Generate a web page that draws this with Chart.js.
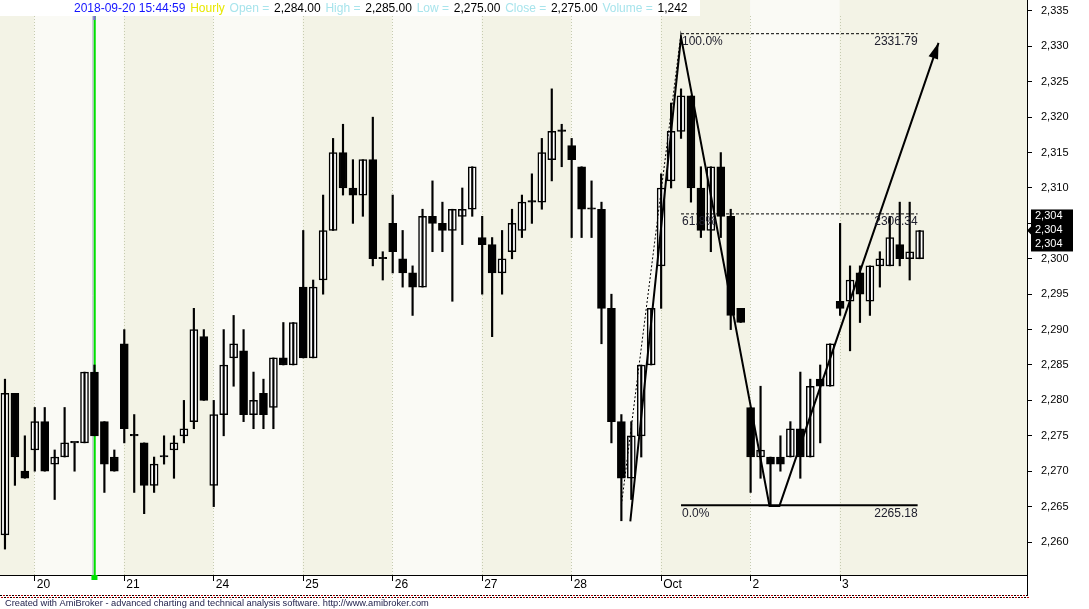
<!DOCTYPE html>
<html>
<head>
<meta charset="utf-8">
<script src="https://cdn.jsdelivr.net/npm/chart.js@4.4.0/dist/chart.umd.min.js"></script>
<style>
  html, body { margin: 0; padding: 0; background: #fff; }
</style>
</head>
<body>
<canvas id="myChart" width="1089" height="609"></canvas>
<script>
// hourly bars (index 0 = last 3 bars of Sep 19)
const opens  = [2261,2281,2270,2273,2277,2271,2272,2274,2274,2284,2277,2272,2288,2275,2274,2268,2272,2273,2275,2277,
                2289,2268,2278,2286,2287,2278,2281,2279,2286,2285,2296,2286,2297,2304,2315,2310,2309,2314,2300,2305,
                2300,2298,2296,2306,2305,2304,2306,2307,2303,2302,2298,2301,2304,2308,2308,2314,2318,2316,2313,2307,
                2307,2293,2277,2269,2275,2285,2299,2311,2318,2323,2310,2304,2313,2306,2293,2279,2272,2272,2272,2272,
                2276,2272,2283,2282,2294,2294,2298,2294,2299,2299,2302,2300,2300];
const highs  = [2283,2281,2275,2279,2279,2273,2279,2274,2284,2285,2277,2273,2290,2278,2274,2272,2275,2275,2280,2293,
                2290,2280,2290,2292,2290,2284,2283,2286,2291,2291,2304,2297,2309,2317,2319,2314,2314,2320,2301,2309,
                2304,2299,2307,2311,2308,2307,2310,2313,2306,2303,2304,2307,2309,2312,2317,2324,2319,2317,2313,2311,
                2308,2295,2278,2277,2285,2293,2312,2322,2324,2323,2313,2313,2315,2307,2293,2279,2282,2272,2275,2277,
                2284,2283,2285,2288,2305,2299,2299,2299,2301,2306,2308,2308,2304];
const lows   = [2259,2268,2269,2270,2270,2266,2272,2270,2274,2275,2267,2270,2274,2267,2264,2267,2271,2269,2274,2276,
                2280,2265,2275,2282,2277,2276,2276,2276,2285,2285,2286,2286,2295,2304,2309,2305,2306,2299,2297,2298,
                2296,2292,2296,2301,2301,2294,2302,2306,2295,2289,2295,2300,2303,2305,2307,2311,2313,2303,2303,2303,
                2288,2274,2263,2266,2272,2285,2293,2310,2317,2308,2303,2301,2303,2290,2291,2267,2269,2265,2270,2272,
                2269,2272,2274,2282,2292,2287,2291,2292,2296,2299,2299,2297,2300];
const closes = [2281,2272,2269,2277,2270,2272,2274,2274,2284,2275,2271,2270,2276,2275,2268,2271,2272,2274,2276,2290,
                2280,2278,2285,2288,2278,2280,2278,2286,2285,2291,2286,2296,2304,2315,2310,2309,2314,2300,2300,2301,
                2298,2296,2306,2305,2304,2307,2307,2313,2302,2298,2300,2305,2308,2308,2315,2318,2318,2314,2307,2307,
                2293,2277,2269,2275,2285,2293,2310,2318,2323,2310,2304,2313,2306,2292,2291,2272,2273,2271,2271,2276,
                2272,2282,2282,2288,2293,2297,2295,2299,2300,2303,2300,2301,2304];

// first bar of each day and its label
const dayTicks  = [3, 12, 21, 30, 39, 48, 57, 66, 75, 84];
const dayLabels = ['20', '21', '24', '25', '26', '27', '28', 'Oct', '2', '3'];
const yTicks = [2260, 2265, 2270, 2275, 2280, 2285, 2290, 2295, 2300, 2305, 2310, 2315, 2320, 2325, 2330, 2335];

// zigzag study (bar index, price)
const zigzagX = [62.9, 68.0, 76.9, 77.9, 93.9];
const zigzagY = [2262.9, 2331.3, 2265.1, 2265.1, 2330.5];

// fibonacci retracement
const fibTrendX = [62.0, 68.0];
const fibTrendY = [2265.18, 2331.79];
const fibPct    = ['100.0%', '61.8%', '0.0%'];
const fibValues = [2331.79, 2306.34, 2265.18];
const fibFrom = 68, fibTo = 91.8;

const selectedBar = 9;
const selectedVolume = 1242;
const lastPrice = 2304;

const withCommas = (v) => String(v).replace(/\B(?=(\d{3})+(?!\d))/g, ',');
const price2 = (v) => withCommas(v.toFixed(2).split('.')[0]) + '.' + v.toFixed(2).split('.')[1];

const FONT = 'Liberation Sans, Arial, sans-serif';

const bodyColors = closes.map((c, i) => c > opens[i] ? '#ffffff' : '#000000');

const amiDecor = {
  id: 'amiDecor',
  beforeDraw(chart) {
    const { ctx, chartArea: a, scales: { x } } = chart;
    ctx.save();
    ctx.fillStyle = '#ffffff';
    ctx.fillRect(0, 0, chart.width, chart.height);
    ctx.fillStyle = '#f3f3e6';
    ctx.fillRect(a.left, a.top, a.right - a.left, a.bottom - a.top);
    // lighter stripe every other day
    for (let d = 0; d < dayTicks.length; d += 2) {
      const x0 = x.getPixelForValue(dayTicks[d]) - 0.5;
      const x1 = d + 1 < dayTicks.length ? x.getPixelForValue(dayTicks[d + 1]) - 0.5 : a.right;
      ctx.fillStyle = '#fafaf5';
      ctx.fillRect(x0, a.top, x1 - x0, a.bottom - a.top);
    }
    ctx.fillStyle = '#ffffff';
    ctx.fillRect(a.left, a.top, 700, 16);
    ctx.strokeStyle = '#c6cbb0';
    ctx.lineWidth = 1;
    ctx.setLineDash([1, 2]);
    dayTicks.forEach(t => {
      const px = Math.round(x.getPixelForValue(t) - 0.5) + 0.5;
      ctx.beginPath();
      ctx.moveTo(px, a.top + 16);
      ctx.lineTo(px, a.bottom);
      ctx.stroke();
    });
    ctx.restore();
  },
  beforeDatasetsDraw(chart) {
    const { ctx, chartArea: a, scales: { x } } = chart;
    const px = x.getPixelForValue(selectedBar);
    ctx.save();
    ctx.strokeStyle = '#a4a8c0';
    ctx.lineWidth = 1;
    ctx.beginPath();
    ctx.moveTo(px - 1.5, a.top + 16);
    ctx.lineTo(px - 1.5, a.bottom);
    ctx.stroke();
    ctx.strokeStyle = '#00e000';
    ctx.lineWidth = 2;
    ctx.beginPath();
    ctx.moveTo(px + 0.3, a.top + 16);
    ctx.lineTo(px + 0.3, a.bottom);
    ctx.stroke();
    ctx.restore();
  },
  afterDatasetsDraw(chart) {
    const { ctx, scales: { x, y } } = chart;
    ctx.save();
    // arrow head on the last zigzag leg
    const n = zigzagX.length;
    const tx = x.getPixelForValue(zigzagX[n - 1]), ty = y.getPixelForValue(zigzagY[n - 1]);
    const fx = x.getPixelForValue(zigzagX[n - 2]), fy = y.getPixelForValue(zigzagY[n - 2]);
    const ang = Math.atan2(ty - fy, tx - fx);
    const len = 16, half = 5;
    ctx.fillStyle = '#000';
    ctx.beginPath();
    ctx.moveTo(tx, ty);
    ctx.lineTo(tx - len * Math.cos(ang) + half * Math.sin(ang), ty - len * Math.sin(ang) - half * Math.cos(ang));
    ctx.lineTo(tx - len * Math.cos(ang) - half * Math.sin(ang), ty - len * Math.sin(ang) + half * Math.cos(ang));
    ctx.closePath();
    ctx.fill();
    // fib labels
    ctx.font = '12px ' + FONT;
    ctx.fillStyle = '#20202e';
    ctx.textBaseline = 'top';
    const lx = x.getPixelForValue(fibFrom), rx = x.getPixelForValue(fibTo);
    fibValues.forEach((v, k) => {
      const py = y.getPixelForValue(v);
      ctx.textAlign = 'left';
      ctx.fillText(fibPct[k], lx + 1, py + 2);
      ctx.textAlign = 'right';
      ctx.fillText(v.toFixed(2), rx, py + 2);
    });
    ctx.restore();
  },
  afterDraw(chart) {
    const { ctx, chartArea: a, scales: { x, y } } = chart;
    ctx.save();
    // last price boxes
    const py = y.getPixelForValue(lastPrice);
    ctx.fillStyle = '#000';
    ctx.fillRect(a.right + 4, py - 21, 42, 42);
    ctx.beginPath();
    ctx.moveTo(a.right, py);
    ctx.lineTo(a.right + 5, py - 5);
    ctx.lineTo(a.right + 5, py + 5);
    ctx.closePath();
    ctx.fill();
    ctx.fillStyle = '#fff';
    ctx.font = '11px ' + FONT;
    ctx.textBaseline = 'middle';
    ctx.textAlign = 'left';
    [-14, 0, 14].forEach(d => ctx.fillText(withCommas(lastPrice), a.right + 8, py + d));

    // title line
    const head = [
      ['2018-09-20 15:44:59', '#1414ff'],
      ['Hourly', '#e8e800'],
      ['Open =', '#a8e4ec'], [price2(opens[selectedBar]), '#000'],
      ['High =', '#a8e4ec'], [price2(highs[selectedBar]), '#000'],
      ['Low =', '#a8e4ec'], [price2(lows[selectedBar]), '#000'],
      ['Close =', '#a8e4ec'], [price2(closes[selectedBar]), '#000'],
      ['Volume =', '#a8e4ec'], [withCommas(selectedVolume), '#000']
    ];
    ctx.font = '12px ' + FONT;
    ctx.textBaseline = 'middle';
    let hx = 74;
    const sp = ctx.measureText(' ').width + 1.4;
    head.forEach(([t, c]) => {
      ctx.fillStyle = c;
      ctx.fillText(t, hx, 9);
      hx += ctx.measureText(t).width + sp;
    });

    // selected bar marker on the date axis
    const sx = x.getPixelForValue(selectedBar);
    ctx.fillStyle = '#00e000';
    ctx.fillRect(sx - 3, a.bottom, 6, 5);
    ctx.fillStyle = '#8060e0';
    ctx.fillRect(sx - 1, 16, 2, 4);

    // right border continues down to the footer rule
    ctx.strokeStyle = '#000';
    ctx.lineWidth = 1;
    ctx.beginPath();
    ctx.moveTo(a.right + 0.5, a.bottom);
    ctx.lineTo(a.right + 0.5, 596);
    ctx.stroke();

    // red/black dotted rule
    for (let i = 0; i < a.right; i += 3) {
      ctx.fillStyle = (i / 3) % 2 ? '#b00000' : '#000000';
      ctx.fillRect(i, 595, 2, 1);
      ctx.fillStyle = (i / 3) % 2 ? '#000000' : '#c00000';
      ctx.fillRect(i + 1, 597, 2, 1);
    }

    // footer
    const foot = 'Created with AmiBroker - advanced charting and technical analysis software. http://www.amibroker.com';
    ctx.font = '10px ' + FONT;
    const fs = 10 * 424 / ctx.measureText(foot).width;
    ctx.font = fs.toFixed(2) + 'px ' + FONT;
    ctx.fillStyle = '#1c1c48';
    ctx.textAlign = 'left';
    ctx.textBaseline = 'middle';
    ctx.fillText(foot, 5, 603);
    ctx.restore();
  }
};

const ctx = document.getElementById('myChart').getContext('2d');

const lineDs = (pts, width, dash) => ({
  type: 'line',
  data: pts,
  borderColor: '#000',
  borderWidth: width,
  borderDash: dash,
  pointRadius: 0,
  tension: 0,
  fill: false,
  order: 0
});

new Chart(ctx, {
  type: 'bar',
  data: {
    datasets: [
      lineDs(zigzagX.map((v, i) => ({ x: v, y: zigzagY[i] })), 2, []),
      lineDs(fibTrendX.map((v, i) => ({ x: v, y: fibTrendY[i] })), 1, [2, 2]),
      ...fibValues.map((v, k) => lineDs([{ x: fibFrom, y: v }, { x: fibTo, y: v }], k === 2 ? 2 : 1, k === 2 ? [] : [3, 2])),
      {
        label: 'wick',
        data: highs.map((h, i) => ({ x: i, y: [lows[i], h] })),
        backgroundColor: '#000',
        barThickness: 1.5,
        grouped: false,
        order: 1
      },
      {
        label: 'body',
        data: opens.map((o, i) => ({ x: i, y: [o, closes[i]] })),
        backgroundColor: bodyColors,
        borderColor: '#000',
        borderWidth: 1.5,
        borderSkipped: false,
        barThickness: 8,
        minBarLength: 1.5,
        grouped: false,
        order: 2
      }
    ]
  },
  options: {
    responsive: false,
    animation: false,
    layout: { padding: 0 },
    plugins: { legend: { display: false }, tooltip: { enabled: false } },
    scales: {
      x: {
        type: 'linear',
        min: -0.5,
        max: 102.8,
        offset: false,
        afterBuildTicks: (s) => { s.ticks = dayTicks.map(v => ({ value: v })); },
        afterFit: (s) => { s.height = 34; s.paddingLeft = 0; s.paddingRight = 0; },
        grid: { offset: false, drawOnChartArea: false, drawTicks: true, tickLength: 6, color: '#000' },
        border: { display: true, color: '#000', width: 1 },
        ticks: {
          autoSkip: false, maxRotation: 0, minRotation: 0,
          align: 'start', labelOffset: 2, padding: -4,
          color: '#000', font: { family: FONT, size: 12 },
          callback: (v, i) => dayLabels[i]
        }
      },
      y: {
        type: 'linear',
        position: 'right',
        min: 2255.34,
        max: 2336.55,
        afterBuildTicks: (s) => { s.ticks = yTicks.map(v => ({ value: v })); },
        afterFit: (s) => { s.width = 62; s.paddingTop = 0; s.paddingBottom = 0; },
        grid: { drawOnChartArea: false, drawTicks: true, tickLength: 5, color: '#000' },
        border: { display: true, color: '#000', width: 1 },
        ticks: {
          padding: 9, color: '#000', font: { family: FONT, size: 11 },
          callback: (v) => withCommas(v)
        }
      }
    }
  },
  plugins: [amiDecor]
});
</script>
</body>
</html>
